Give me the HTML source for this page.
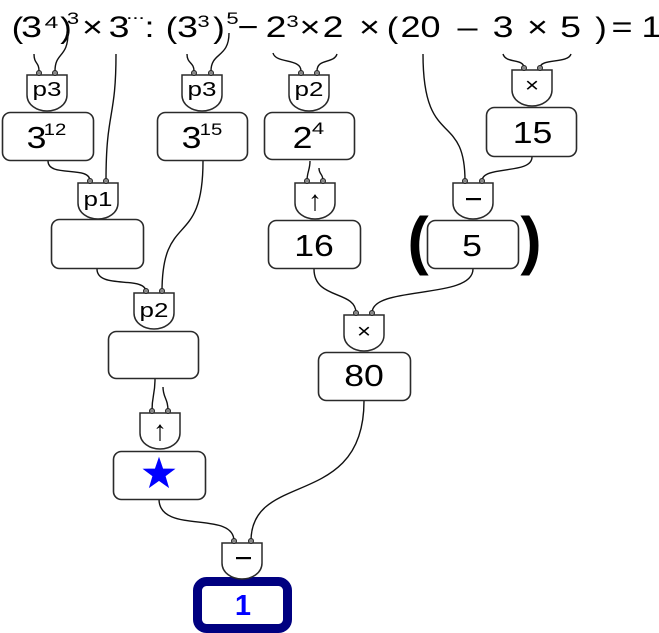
<!DOCTYPE html>
<html>
<head>
<meta charset="utf-8">
<style>
  html,body{margin:0;padding:0;background:#fff;}
  svg{display:block;}
  text{font-family:"Liberation Sans",Arial,sans-serif;fill:#000;}
</style>
</head>
<body>
<svg width="659" height="633" viewBox="0 0 659 633" xmlns="http://www.w3.org/2000/svg">
  <!-- Top equation line -->
  <g font-size="30" text-anchor="middle">
    <text transform="translate(17.5,38) scale(1.15,1)">(</text>
    <text transform="translate(31.5,37) scale(1.25,1)">3</text>
    <text transform="translate(66,38) scale(1.15,1)">)</text>
    <text transform="translate(92.5,37) scale(1.2,1)">×</text>
    <text transform="translate(119,37) scale(1.25,1)">3</text>
    <text transform="translate(149.5,37) scale(1.2,1)">:</text>
    <text transform="translate(171.5,38) scale(1.15,1)">(</text>
    <text transform="translate(187.5,37) scale(1.25,1)">3</text>
    <text transform="translate(219,38) scale(1.15,1)">)</text>
    <text transform="translate(248,37) scale(1.2,1)">−</text>
    <text transform="translate(276,37) scale(1.25,1)">2</text>
    <text transform="translate(310,37) scale(1.2,1)">×</text>
    <text transform="translate(333,37) scale(1.25,1)">2</text>
    <text transform="translate(369.5,37) scale(1.2,1)">×</text>
    <text transform="translate(392.5,38) scale(1.15,1)">(</text>
    <text transform="translate(420.5,37) scale(1.2,1)">20</text>
    <text transform="translate(467.5,37) scale(1.2,1)">–</text>
    <text transform="translate(503,37) scale(1.25,1)">3</text>
    <text transform="translate(537.5,37) scale(1.2,1)">×</text>
    <text transform="translate(570.5,37) scale(1.25,1)">5</text>
    <text transform="translate(601,38) scale(1.15,1)">)</text>
    <text transform="translate(622,37) scale(1.2,1)">=</text>
    <text transform="translate(651.5,37) scale(1.2,1)">1</text>
  </g>
  <g font-size="17" text-anchor="middle">
    <text transform="translate(51.5,28) scale(1.45,1)">4</text>
    <text transform="translate(73,24) scale(1.3,1)">3</text>
    <text transform="translate(135.5,19) scale(1.3,1)">...</text>
    <text transform="translate(203.5,27) scale(1.3,1)">3</text>
    <text transform="translate(232.5,24) scale(1.3,1)">5</text>
    <text transform="translate(292.5,27) scale(1.3,1)">3</text>
  </g>

  <!-- Wires -->
  <g fill="none" stroke="#111" stroke-width="1.4">
    <path d="M34,54 C34,64 39,62 39,71"/>
    <path d="M68,33 C68,58 55,52 55,71"/>
    <path d="M116,54 C116,120 106,110 106,181"/>
    <path d="M187,54 C187,64 194,62 194,71"/>
    <path d="M229,33 C229,58 211,52 211,71"/>
    <path d="M273,53 C276,64 301,58 301,71"/>
    <path d="M337,54 C334,64 317,58 317,71"/>
    <path d="M503,54 C506,64 524,58 524,68"/>
    <path d="M571,54 C568,64 540,58 540,68"/>
    <path d="M423,54 C423,150 465,110 465,181"/>
    <path d="M532,157 C532,175 482,165 482,181"/>
    <path d="M48,161 C48,178 90,165 90,181"/>
    <path d="M203,161 C203,250 162,210 162,292"/>
    <path d="M310,161 C310,170 307,172 307,181"/>
    <path d="M319,168 C319,175 323,173 323,181"/>
    <path d="M97,269 C97,290 146,275 146,292"/>
    <path d="M314,269 C314,300 356,290 356,313"/>
    <path d="M473,269 C473,300 372,285 372,313"/>
    <path d="M155,379 C155,395 152,395 152,411"/>
    <path d="M163,387 C163,398 168,398 168,411"/>
    <path d="M364,401 C364,510 251,470 251,541"/>
    <path d="M159,499 C159,535 234,510 234,541"/>
  </g>

  <!-- Boxes -->
  <g fill="#fff" stroke="#2a2a2a" stroke-width="1.6">
    <rect x="2.5" y="112.5" width="91" height="48" rx="8"/>
    <rect x="157.5" y="112.5" width="90" height="48" rx="8"/>
    <rect x="264.5" y="112.5" width="90" height="47" rx="8"/>
    <rect x="486.5" y="107.5" width="90" height="49" rx="8"/>
    <rect x="51.5" y="219.5" width="92" height="49" rx="8"/>
    <rect x="268.5" y="220.5" width="92" height="48" rx="8"/>
    <rect x="427.5" y="220.5" width="91" height="48" rx="8"/>
    <rect x="108.5" y="331.5" width="90" height="47" rx="8"/>
    <rect x="318.5" y="352.5" width="92" height="48" rx="8"/>
    <rect x="113.5" y="451.5" width="92" height="48" rx="8"/>
  </g>
  <rect x="197.5" y="581.5" width="90" height="47" rx="9" fill="#fff" stroke="#000080" stroke-width="9"/>

  <!-- Box texts -->
  <g font-size="31" text-anchor="middle">
    <text transform="translate(36.5,148) scale(1.15,1)">3</text>
    <text transform="translate(191.5,148) scale(1.15,1)">3</text>
    <text transform="translate(302.5,148) scale(1.15,1)">2</text>
    <text transform="translate(532.5,143) scale(1.15,1)">15</text>
    <text transform="translate(314,256) scale(1.15,1)">16</text>
    <text transform="translate(472,256) scale(1.15,1)">5</text>
    <text transform="translate(364,386) scale(1.15,1)">80</text>
  </g>
  <g font-size="17" text-anchor="middle">
    <text transform="translate(55,135) scale(1.2,1)">12</text>
    <text transform="translate(211,135) scale(1.2,1)">15</text>
    <text transform="translate(318,134) scale(1.3,1)">4</text>
  </g>
  <!-- Big parentheses -->
  <g font-size="64" font-weight="bold" text-anchor="middle">
    <text x="418" y="262">(</text>
    <text x="531" y="262">)</text>
  </g>
  <!-- Star -->
  <polygon points="159,459 162.5,469.2 173.3,469.4 164.7,475.9 167.8,486.2 159,480 150.2,486.2 153.3,475.9 144.7,469.4 155.5,469.2" fill="#0000ff" stroke="#0000ff" stroke-width="1.5" stroke-linejoin="miter"/>
  <!-- Final 1 -->
  <text x="243" y="615" font-size="29" font-weight="bold" text-anchor="middle" style="fill:#0000ff">1</text>

  <!-- Gates -->
  <g fill="#fff" stroke="#2a2a2a" stroke-width="1.5">
    <path d="M27,75 H67 V95 C67,105 57,111 47,111 C37,111 27,105 27,95 Z"/>
    <path d="M182,75 H222 V95 C222,105 212,111 202,111 C192,111 182,105 182,95 Z"/>
    <path d="M289,75 H329 V95 C329,105 319,111 309,111 C299,111 289,105 289,95 Z"/>
    <path d="M512,70 H552 V90 C552,100 542,106 532,106 C522,106 512,100 512,90 Z"/>
    <path d="M78,183 H118 V203 C118,213 108,219 98,219 C88,219 78,213 78,203 Z"/>
    <path d="M295,183 H335 V203 C335,213 325,219 315,219 C305,219 295,213 295,203 Z"/>
    <path d="M453,183 H493 V203 C493,213 483,219 473,219 C463,219 453,213 453,203 Z"/>
    <path d="M134,293 H174 V313 C174,323 164,329 154,329 C144,329 134,323 134,313 Z"/>
    <path d="M344,315 H384 V335 C384,345 374,351 364,351 C354,351 344,345 344,335 Z"/>
    <path d="M140,413 H180 V433 C180,443 170,449 160,449 C150,449 140,443 140,433 Z"/>
    <path d="M222,543 H262 V563 C262,573 252,579 242,579 C232,579 222,573 222,563 Z"/>
  </g>
  <!-- Ports -->
  <g fill="#888" stroke="#222" stroke-width="1">
    <circle cx="39" cy="73" r="2.5"/><circle cx="55" cy="73" r="2.5"/>
    <circle cx="194" cy="73" r="2.5"/><circle cx="211" cy="73" r="2.5"/>
    <circle cx="301" cy="73" r="2.5"/><circle cx="317" cy="73" r="2.5"/>
    <circle cx="524" cy="68" r="2.5"/><circle cx="540" cy="68" r="2.5"/>
    <circle cx="90" cy="181" r="2.5"/><circle cx="106" cy="181" r="2.5"/>
    <circle cx="307" cy="181" r="2.5"/><circle cx="323" cy="181" r="2.5"/>
    <circle cx="465" cy="181" r="2.5"/><circle cx="482" cy="181" r="2.5"/>
    <circle cx="146" cy="291" r="2.5"/><circle cx="162" cy="291" r="2.5"/>
    <circle cx="356" cy="313" r="2.5"/><circle cx="372" cy="313" r="2.5"/>
    <circle cx="152" cy="411" r="2.5"/><circle cx="168" cy="411" r="2.5"/>
    <circle cx="234" cy="541" r="2.5"/><circle cx="251" cy="541" r="2.5"/>
  </g>
  <!-- Gate labels -->
  <g font-size="20" text-anchor="middle">
    <text transform="translate(47,96) scale(1.3,1)">p3</text>
    <text transform="translate(202,96) scale(1.3,1)">p3</text>
    <text transform="translate(309,96) scale(1.3,1)">p2</text>
    <text transform="translate(532,92) scale(1.2,1)" font-size="20">×</text>
    <text transform="translate(98,206) scale(1.3,1)">p1</text>
    <text transform="translate(315,210) scale(1,1)" font-size="28">↑</text>
    <text transform="translate(154,317) scale(1.3,1)">p2</text>
    <text transform="translate(364,338) scale(1.2,1)" font-size="20">×</text>
    <text transform="translate(160,440) scale(1,1)" font-size="28">↑</text>
  </g>
  <rect x="466" y="198" width="15" height="2.2" fill="#000"/>
  <rect x="236" y="557" width="15" height="2.2" fill="#000"/>
</svg>
</body>
</html>
